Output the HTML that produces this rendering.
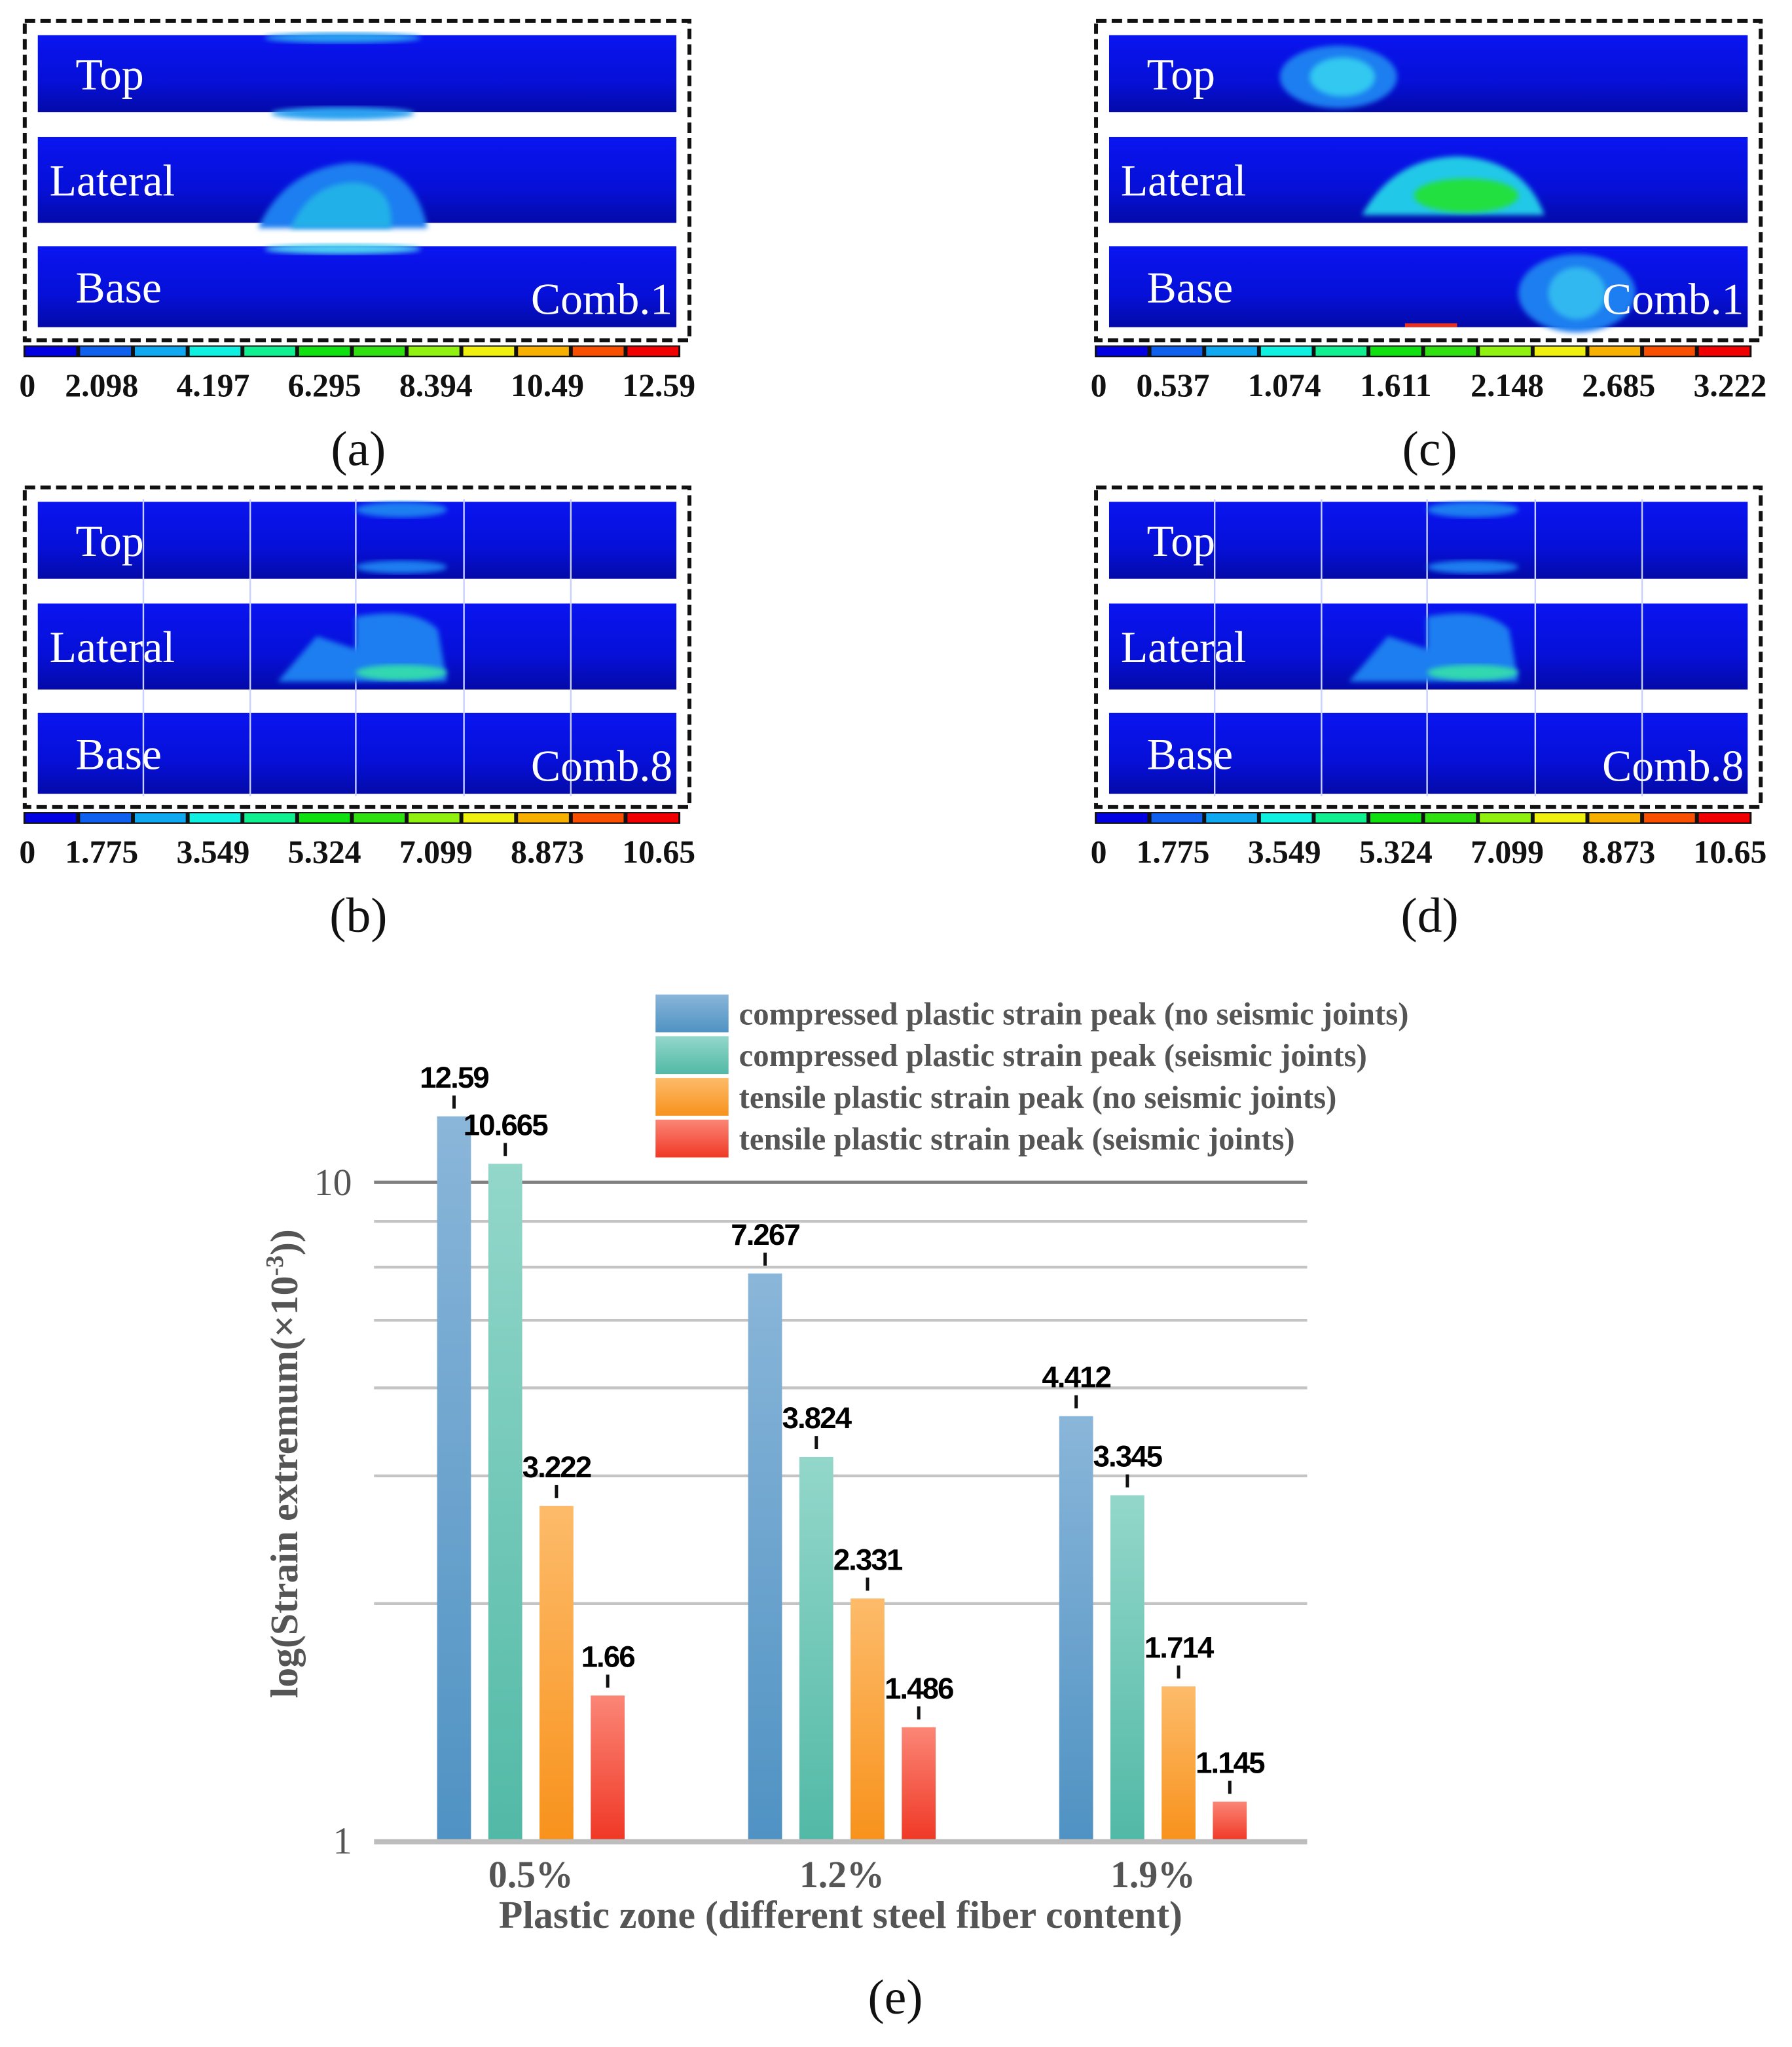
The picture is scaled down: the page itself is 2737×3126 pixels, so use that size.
<!DOCTYPE html>
<html><head><meta charset="utf-8"><style>
html,body{margin:0;padding:0;background:#fff}
svg{display:block}
</style></head><body>
<svg id="fig" xmlns="http://www.w3.org/2000/svg" width="2737" height="3126" viewBox="0 0 1375 1570.5" preserveAspectRatio="none">
<defs>
<linearGradient id="strip" x1="0" y1="0" x2="0" y2="1"><stop offset="0" stop-color="#0a14f0"/><stop offset="0.6" stop-color="#0610d8"/><stop offset="1" stop-color="#040aa8"/></linearGradient>
<linearGradient id="g0" x1="0" y1="0" x2="0" y2="1"><stop offset="0" stop-color="#8ab6d9"/><stop offset="1" stop-color="#4f92c3"/></linearGradient>
<linearGradient id="g1" x1="0" y1="0" x2="0" y2="1"><stop offset="0" stop-color="#93d7ca"/><stop offset="1" stop-color="#52b9a6"/></linearGradient>
<linearGradient id="g2" x1="0" y1="0" x2="0" y2="1"><stop offset="0" stop-color="#fdbb6a"/><stop offset="1" stop-color="#f8921c"/></linearGradient>
<linearGradient id="g3" x1="0" y1="0" x2="0" y2="1"><stop offset="0" stop-color="#fb8676"/><stop offset="1" stop-color="#f03826"/></linearGradient>
<filter id="blur"><feGaussianBlur stdDeviation="2"/></filter>
</defs>
<g id="panels"></g>
<g id="chart"></g>
</svg>
<script>
const NS='http://www.w3.org/2000/svg';
function mk(parent,tag,attrs,text){const e=document.createElementNS(NS,tag);for(const k in attrs)e.setAttribute(k,attrs[k]);if(text!==undefined)e.textContent=text;parent.appendChild(e);return e;}
const cbColors=['#0000e0','#1060f0','#10a8f0','#10f0e0','#10f090','#10e010','#30e010','#90f010','#f0f010','#f8b000','#f85000','#f00000'];
const panelLetters=['a','c','b','d'];
const panelCombs=['Comb.1','Comb.1','Comb.8','Comb.8'];
const panelTicks=[
 ['0','2.098','4.197','6.295','8.394','10.49','12.59'],
 ['0','0.537','1.074','1.611','2.148','2.685','3.222'],
 ['0','1.775','3.549','5.324','7.099','8.873','10.65'],
 ['0','1.775','3.549','5.324','7.099','8.873','10.65']];
const panelsG=document.getElementById('panels');
const pos=[[18,15],[840,15],[18,373],[840,373]];
pos.forEach((p,i)=>{
 const [x0,y0]=p;
 const g=mk(panelsG,'g',{});
 
 
 const box=mk(g,'rect',{x:x0+1,y:y0+1,width:510,height:245,fill:'none',stroke:'#111','stroke-width':3,'stroke-dasharray':'8 4'});
 
 
 const rows=[[12,59,'Top'],[90,66,'Lateral'],[174,62,'Base']];
 rows.forEach((r,j)=>{
  const s=mk(g,'rect',{x:x0+11,y:y0+r[0],width:490,height:r[1],fill:'url(#strip)'});
  
  
 });
 const cl=mk(g,'g',{});
 
 
 if(i===0){
  mk(cl,'path',{d:`M${x0+180} ${y0+160} Q${x0+200} ${y0+115} ${x0+250} ${y0+110} Q${x0+300} ${y0+110} ${x0+310} ${y0+160} Z`,fill:'#1a7ef0',filter:'url(#blur)'});
  mk(cl,'path',{d:`M${x0+205} ${y0+160} Q${x0+220} ${y0+125} ${x0+255} ${y0+125} Q${x0+285} ${y0+128} ${x0+282} ${y0+160} Z`,fill:'#22b0e8',filter:'url(#blur)'});
  mk(cl,'ellipse',{cx:x0+245,cy:y0+14,rx:60,ry:4,fill:'#2aa0f0',filter:'url(#blur)'});
  mk(cl,'ellipse',{cx:x0+245,cy:y0+72,rx:55,ry:5,fill:'#2aa0f0',filter:'url(#blur)'});
  mk(cl,'ellipse',{cx:x0+245,cy:y0+176,rx:60,ry:4,fill:'#50d0f0',filter:'url(#blur)'});
 } else if(i===1){
  mk(cl,'ellipse',{cx:x0+187,cy:y0+44,rx:45,ry:24,fill:'#1a7ef0',filter:'url(#blur)'});
  mk(cl,'ellipse',{cx:x0+190,cy:y0+44,rx:25,ry:15,fill:'#30c8f0',filter:'url(#blur)'});
  mk(cl,'path',{d:`M${x0+205} ${y0+150} Q${x0+230} ${y0+105} ${x0+280} ${y0+105} Q${x0+330} ${y0+108} ${x0+345} ${y0+150} Z`,fill:'#20c8e8',filter:'url(#blur)'});
  mk(cl,'ellipse',{cx:x0+285,cy:y0+135,rx:40,ry:13,fill:'#20e040',filter:'url(#blur)'});
  mk(cl,'ellipse',{cx:x0+370,cy:y0+210,rx:45,ry:30,fill:'#1a7ef0',filter:'url(#blur)'});
  mk(cl,'ellipse',{cx:x0+370,cy:y0+210,rx:22,ry:20,fill:'#30b8f0',filter:'url(#blur)'});
  mk(cl,'rect',{x:x0+238,y:y0+233,width:40,height:3,fill:'#e83020'});
 } else {
  [110,192,273,356,438].forEach(vx=>{mk(cl,'line',{x1:vx+(i===3?822:0),y1:y0+10,x2:vx+(i===3?822:0),y2:y0+238,stroke:'#c8d0ff','stroke-width':1.2});});
  mk(cl,'path',{d:`M${x0+195} ${y0+150} L${x0+225} ${y0+115} L${x0+255} ${y0+125} L${x0+255} ${y0+100} Q${x0+300} ${y0+92} ${x0+318} ${y0+110} L${x0+325} ${y0+150} Z`,fill:'#1a7ef0',filter:'url(#blur)'});
  mk(cl,'ellipse',{cx:x0+290,cy:y0+143,rx:35,ry:6,fill:'#30d8b0',filter:'url(#blur)'});
  mk(cl,'ellipse',{cx:x0+290,cy:y0+18,rx:35,ry:6,fill:'#1a7ef0',filter:'url(#blur)'});
  mk(cl,'ellipse',{cx:x0+290,cy:y0+62,rx:35,ry:5,fill:'#1a7ef0',filter:'url(#blur)'});
 }
 rows.forEach((r,j)=>{
  const tx=j===1?x0+20:x0+40;
  const t=mk(g,'text',{x:tx,y:y0+r[0]+r[1]/2+12,fill:'#fff','font-family':'Liberation Serif, serif','font-size':34},r[2]);
  
  
 });
 const c=mk(g,'text',{x:x0+498,y:y0+226,fill:'#fff','font-family':'Liberation Serif, serif','font-size':34,'text-anchor':'end'},panelCombs[i]);
 
 
 const cby=y0+250, cbw=504/12;
 const cb=mk(g,'g',{});
 
 
 mk(cb,'rect',{x:x0,y:cby,width:504,height:9,fill:'#111'});
 cbColors.forEach((col,k)=>{mk(cb,'rect',{x:x0+k*cbw+1.5,y:cby+1,width:cbw-3,height:7,fill:col});});
 panelTicks[i].forEach((tk,k)=>{
  const t=mk(g,'text',{x:k===0?x0+3:x0+60+(k-1)*85.5,y:y0+289,'font-family':'Liberation Serif, serif','font-size':25,'font-weight':'bold','text-anchor':'middle',fill:'#111'},tk);
  
  
 });
 const L=mk(g,'text',{x:x0+257,y:y0+342,'font-family':'Liberation Serif, serif','font-size':38,'text-anchor':'middle',fill:'#111'},'('+panelLetters[i]+')');
 
 
});

// ---- Chart data ----
const categories=['0.5%','1.2%','1.9%'];
const seriesNames=['compressed plastic strain peak (no seismic joints)','compressed plastic strain peak (seismic joints)','tensile plastic strain peak (no seismic joints)','tensile plastic strain peak (seismic joints)'];
const compNoJoint=[12.59,7.267,4.412];
const compJoint=[10.665,3.824,3.345];
const tensNoJoint=[3.222,2.331,1.714];
const tensJoint=[1.66,1.486,1.145];
const valueLabels=[['12.59','7.267','4.412'],['10.665','3.824','3.345'],['3.222','2.331','1.714'],['1.66','1.486','1.145']];
const gridValues=[2.29,3.58,4.87,6.17,7.43,8.72,10];
const yTickLabels=['1','10'];

const series=[compNoJoint,compJoint,tensNoJoint,tensJoint];
const chart=document.getElementById('chart');
const X0=287,X1=1003,Y1=1412,Y10=907;
function yScale(v){return Y1-(Y1-Y10)*Math.log10(v);}
const groupW=(X1-X0)/3;
function xGroup(i){return X0+groupW*(i+0.5)+1;}
const barW=26, barStep=39.3;
gridValues.forEach(v=>{
 const l=mk(chart,'line',{x1:X0,x2:X1,y1:yScale(v),y2:yScale(v),stroke:v===10?'#808080':'#c4c4c4','stroke-width':v===10?2.5:2.2});
 
 
});
[1,10].forEach((v,k)=>{
 const t=mk(chart,'text',{x:270,y:yScale(v)+10,'text-anchor':'end','font-family':'Liberation Serif, serif','font-size':29,fill:'#555'},yTickLabels[k]);
 
 
});
series.forEach((s,si)=>{
 s.forEach((v,ci)=>{
  const cx=xGroup(ci)+(si-1.5)*barStep;
  const top=yScale(v);
  const b=mk(chart,'rect',{x:cx-barW/2,y:top,width:barW,height:Y1-top,fill:'url(#g'+si+')'});
  
  
  mk(chart,'line',{x1:cx,x2:cx,y1:top-6,y2:top-16,stroke:'#111','stroke-width':2.5});
  const t=mk(chart,'text',{x:cx,y:top-22,'text-anchor':'middle','font-family':'Liberation Sans, sans-serif','font-size':23,'font-weight':'bold',fill:'#000','letter-spacing':'-1'},valueLabels[si][ci]);
  
  
 });
});
const ax=mk(chart,'line',{x1:X0,x2:X1,y1:Y1+1,y2:Y1+1,stroke:'#bdbdbd','stroke-width':4});


categories.forEach((c,ci)=>{
 const t=mk(chart,'text',{x:xGroup(ci),y:1448,'text-anchor':'middle','font-family':'Liberation Serif, serif','font-size':29,'font-weight':'bold',fill:'#555'},c);
 
 
});
const xt=mk(chart,'text',{x:645,y:1479,'text-anchor':'middle','font-family':'Liberation Serif, serif','font-size':30,'font-weight':'bold',fill:'#555'},'Plastic zone (different steel fiber content)');


const yt=mk(chart,'text',{x:0,y:0,transform:'translate(228,1123) rotate(-90)','text-anchor':'middle','font-family':'Liberation Serif, serif','font-size':30,'font-weight':'bold',fill:'#555'});


yt.innerHTML='log(Strain extremum(×10<tspan dy="-11" font-size="19">-3</tspan><tspan dy="11">))</tspan>';
seriesNames.forEach((n,si)=>{
 const y=763+si*32;
 const sw=mk(chart,'rect',{x:503,y:y,width:56,height:29,fill:'url(#g'+si+')'});
 
 
 const t=mk(chart,'text',{x:567,y:y+23,'font-family':'Liberation Serif, serif','font-size':24.5,'font-weight':'bold',fill:'#555'},n);
 
 
});
const e=mk(chart,'text',{x:687,y:1545,'text-anchor':'middle','font-family':'Liberation Serif, serif','font-size':38,fill:'#111'},'(e)');


</script>
</body></html>
